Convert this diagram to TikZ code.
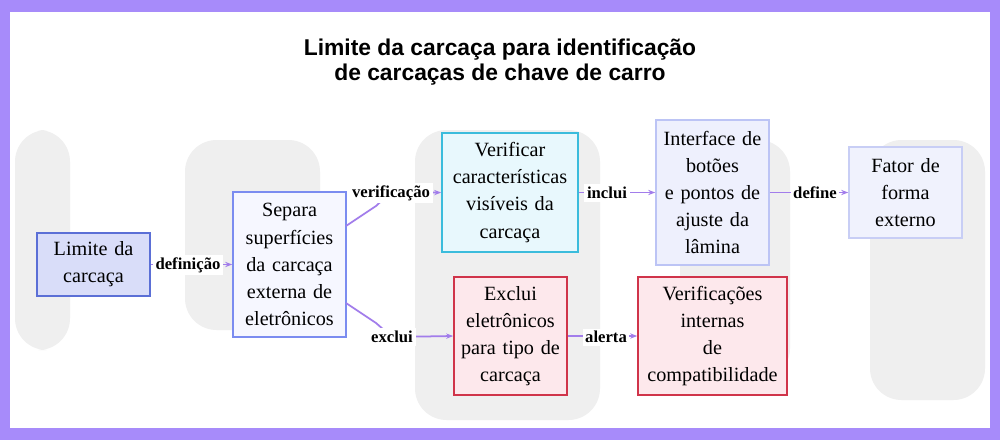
\documentclass[tikz,border=0pt]{standalone}
\usepackage{fontspec}
\setmainfont{Liberation Serif}
\newfontfamily\titlefont{Liberation Sans}
\usetikzlibrary{arrows.meta}
\definecolor{frame}{HTML}{A78BFA}
\definecolor{edgec}{HTML}{A27DEB}
\definecolor{bgk}{HTML}{EFEFEF}
\tikzset{
  box/.style={draw, line width=0.9pt, align=center, font=\fontsize{11.5}{15.4}\selectfont, inner sep=0pt},
  lbl/.style={fill=white, font=\bfseries\fontsize{9.5}{10}\selectfont, inner sep=1.5pt},
  edge/.style={draw=edgec, line width=1pt, -{Stealth[length=4pt,width=3pt]}},
  keyshape/.style={fill=bgk, draw=none, rounded corners=18pt},
}
\begin{document}
\begin{tikzpicture}[x=0.02cm,y=-0.02cm]
\useasboundingbox (0,0) rectangle (1000,440);
\fill[white] (0,0) rectangle (1000,440);
% blurred background hints
\fill[keyshape] (15,130) rectangle (70,350);
\fill[keyshape] (185,140) rectangle (320,330);
\fill[keyshape] (415,130) rectangle (600,420);
\fill[keyshape] (680,140) rectangle (790,380);
\fill[keyshape] (870,140) rectangle (985,400);
% frame
\fill[frame] (0,0) rectangle (1000,12);
\fill[frame] (0,428) rectangle (1000,440);
\fill[frame] (0,0) rectangle (10,440);
\fill[frame] (990,0) rectangle (1000,440);
% title
\node[font=\titlefont\bfseries\fontsize{13}{14.2}\selectfont, align=center] (title) at (500,62) {Limite da carcaça para identificação\\de carcaças de chave de carro};
% nodes
\node[box, fill={rgb,255:red,217;green,221;blue,249}, draw={rgb,255:red,91;green,111;blue,214}, text width=113*0.02cm, minimum height=63*0.02cm] (lim) at (93.5,264.5) {Limite da\\carcaça};
\node[box, fill={rgb,255:red,246;green,247;blue,255}, draw={rgb,255:red,123;green,140;blue,240}, text width=113*0.02cm, minimum height=145*0.02cm] (sep) at (289.5,264.5) {Separa\\superfícies\\da carcaça\\externa de\\eletrônicos};
\node[box, fill={rgb,255:red,232;green,248;blue,253}, draw={rgb,255:red,59;green,188;blue,220}, text width=136*0.02cm, minimum height=119*0.02cm] (ver) at (510,192.5) {Verificar\\características\\visíveis da\\carcaça};
\node[box, fill={rgb,255:red,238;green,240;blue,253}, draw={rgb,255:red,188;green,196;blue,245}, text width=113*0.02cm, minimum height=145*0.02cm] (int) at (712.5,192.5) {Interface de\\botões\\e pontos de\\ajuste da\\lâmina};
\node[box, fill={rgb,255:red,240;green,242;blue,253}, draw={rgb,255:red,200;green,206;blue,245}, text width=113*0.02cm, minimum height=91*0.02cm] (fat) at (905.5,192.5) {Fator de\\forma\\externo};
\node[box, fill={rgb,255:red,253;green,232;blue,236}, draw={rgb,255:red,208;green,52;blue,74}, text width=113*0.02cm, minimum height=118*0.02cm] (exc) at (510.5,336) {Exclui\\eletrônicos\\para tipo de\\carcaça};
\node[box, fill={rgb,255:red,253;green,232;blue,236}, draw={rgb,255:red,208;green,52;blue,74}, text width=149*0.02cm, minimum height=118*0.02cm] (vc) at (712.5,336) {Verificações\\internas\\de\\compatibilidade};
% edges
\draw[edge] (lim.east) -- (sep.west);
\node[lbl] (l1) at (188,265) {definição};
\coordinate (sA) at (346,226);
\coordinate (sB) at (346,303);
\draw[edge] (sA) -- (376,206) -- (390,193) -- (ver.west);
\node[lbl] (l2) at (391,193) {verificação};
\draw[edge] (sB) -- (376,323) -- (392,337) -- (exc.west);
\node[lbl] (l3) at (392,337) {exclui};
\draw[edge] (ver.east) -- (int.west);
\node[lbl] (l4) at (607,193) {inclui};
\draw[edge] (int.east) -- (fat.west);
\node[lbl] (l5) at (815,193) {define};
\draw[edge] (exc.east) -- (vc.west);
\node[lbl] (l6) at (606,337) {alerta};
\end{tikzpicture}
\end{document}
